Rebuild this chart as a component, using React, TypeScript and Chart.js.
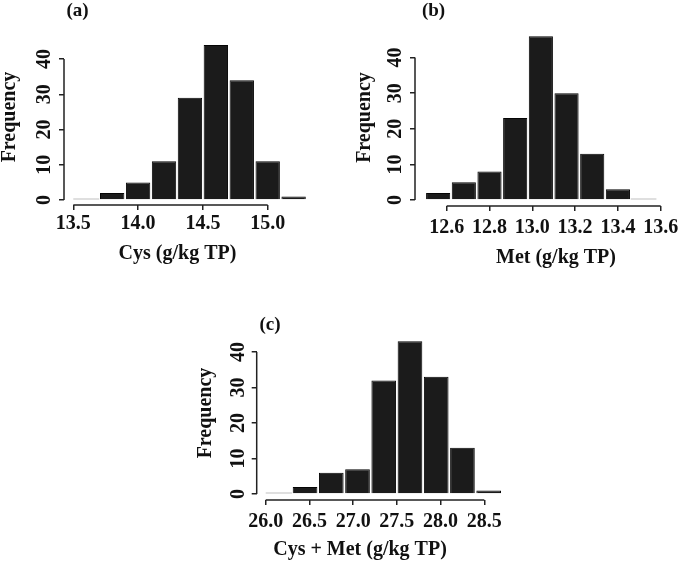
import React, { useEffect, useRef } from "react";
import { Chart, registerables } from "chart.js";

Chart.register(...registerables);

// ---------- data ----------
const cysBinStarts = [13.5, 13.7, 13.9, 14.1, 14.3, 14.5, 14.7, 14.9, 15.1];
const cysCounts = [0, 2, 5, 11, 29, 44, 34, 11, 1];
const cysBinWidth = 0.2;
const cysTicks = [13.5, 14.0, 14.5, 15.0];

const metBinStarts = [12.5, 12.62, 12.74, 12.86, 12.98, 13.1, 13.22, 13.34, 13.46];
const metCounts = [2, 5, 8, 23, 46, 30, 13, 3, 0];
const metBinWidth = 0.12;
const metTicks = [12.6, 12.8, 13.0, 13.2, 13.4, 13.6];

const sumBinStarts = [26.0, 26.3, 26.6, 26.9, 27.2, 27.5, 27.8, 28.1, 28.4];
const sumCounts = [0, 2, 6, 7, 32, 43, 33, 13, 1];
const sumBinWidth = 0.3;
const sumTicks = [26.0, 26.5, 27.0, 27.5, 28.0, 28.5];

const freqTicks = [0, 10, 20, 30, 40];
const panelLabels = ["(a)", "(b)", "(c)"];
const xTitles = ["Cys (g/kg TP)", "Met (g/kg TP)", "Cys + Met (g/kg TP)"];
const yTitle = "Frequency";

// ---------- layout (page pixels) ----------
const W = 685;
const H = 563;
const FONT = "'Liberation Serif', 'Times New Roman', serif";

type Layout = {
  xCal: [number, number, number, number];
  yCal: [number, number, number, number];
  area: { left: number; right: number; top: number; bottom: number };
  yTickPad: number;
  xTickPad: number;
  label: [number, number];
  xTitle: [number, number];
  yTitle: [number, number];
};

const layouts: Layout[] = [
  {
    xCal: [13.5, 73.3, 15.0, 267.7],
    yCal: [0, 200, 40, 59],
    area: { left: 64, right: 316, top: 31, bottom: 205 },
    yTickPad: 4,
    xTickPad: 2,
    label: [77.5, 11],
    xTitle: [177.5, 254],
    yTitle: [9.5, 117],
  },
  {
    xCal: [12.6, 446.7, 13.6, 660.7],
    yCal: [0, 200, 40, 57.5],
    area: { left: 415, right: 666, top: 29, bottom: 206 },
    yTickPad: 4.5,
    xTickPad: 5,
    label: [433.5, 11],
    xTitle: [556, 257.5],
    yTitle: [365, 117.5],
  },
  {
    xCal: [26.0, 265.7, 28.5, 484.3],
    yCal: [0, 494, 40, 352],
    area: { left: 256.7, right: 511, top: 326, bottom: 500 },
    yTickPad: 3,
    xTickPad: 5,
    label: [270, 325],
    xTitle: [360, 550],
    yTitle: [206, 413],
  },
];

const X_AXIS_H = 40;

function valueAt(cal: [number, number, number, number], px: number) {
  const [v1, p1, v2, p2] = cal;
  return v1 + ((px - p1) * (v2 - v1)) / (p2 - p1);
}

type Panel = {
  starts: number[];
  counts: number[];
  width: number;
  ticks: number[];
  index: number;
};

const panels: Panel[] = [
  { starts: cysBinStarts, counts: cysCounts, width: cysBinWidth, ticks: cysTicks, index: 0 },
  { starts: metBinStarts, counts: metCounts, width: metBinWidth, ticks: metTicks, index: 1 },
  { starts: sumBinStarts, counts: sumCounts, width: sumBinWidth, ticks: sumTicks, index: 2 },
];

function Histogram({ panel }: { panel: Panel }) {
  const ref = useRef<HTMLCanvasElement | null>(null);

  useEffect(() => {
    if (!ref.current) return;
    const lay = layouts[panel.index];
    const { area } = lay;
    const xmin = valueAt(lay.xCal, area.left);
    const xmax = valueAt(lay.xCal, area.right);
    const ymin = valueAt(lay.yCal, area.bottom);
    const ymax = valueAt(lay.yCal, area.top);

    const data = panel.starts.map((s, i) => ({ x: s + panel.width / 2, y: panel.counts[i] }));

    const rAxes = {
      id: "rAxes" + panel.index,
      afterDraw(chart: any) {
        const { ctx, chartArea } = chart;
        const xs = chart.scales.x;
        const ys = chart.scales.y;
        ctx.save();
        // zero-height bins
        ctx.strokeStyle = "#d4d4d4";
        ctx.lineWidth = 1.5;
        data.forEach((d) => {
          if (d.y === 0) {
            ctx.beginPath();
            ctx.moveTo(xs.getPixelForValue(d.x - panel.width / 2), ys.getPixelForValue(0) - 1);
            ctx.lineTo(xs.getPixelForValue(d.x + panel.width / 2), ys.getPixelForValue(0) - 1);
            ctx.stroke();
          }
        });
        // axis lines (R style: from first to last tick)
        ctx.strokeStyle = "#222";
        ctx.lineWidth = 1.5;
        const xt = xs.ticks;
        const yt = ys.ticks;
        ctx.beginPath();
        ctx.moveTo(xs.getPixelForValue(xt[0].value), chartArea.bottom);
        ctx.lineTo(xs.getPixelForValue(xt[xt.length - 1].value), chartArea.bottom);
        ctx.moveTo(chartArea.left, ys.getPixelForValue(yt[0].value));
        ctx.lineTo(chartArea.left, ys.getPixelForValue(yt[yt.length - 1].value));
        ctx.stroke();
        // texts
        ctx.fillStyle = "#111";
        ctx.textAlign = "center";
        ctx.textBaseline = "middle";
        ctx.font = `bold 19px ${FONT}`;
        ctx.fillText(panelLabels[panel.index], lay.label[0], lay.label[1]);
        ctx.font = `bold 20px ${FONT}`;
        ctx.fillText(xTitles[panel.index], lay.xTitle[0], lay.xTitle[1]);
        ctx.translate(lay.yTitle[0], lay.yTitle[1]);
        ctx.rotate(-Math.PI / 2);
        ctx.fillText(yTitle, 0, 0);
        ctx.restore();
      },
    };

    const tickFont = { family: FONT, size: 20, weight: "bold" as const };

    const chart = new Chart(ref.current, {
      type: "bar",
      data: {
        datasets: [
          {
            data: data as any,
            backgroundColor: "#1b1b1b",
            borderColor: "#050505",
            borderWidth: 1,
            barPercentage: 0.94,
            categoryPercentage: 1,
          },
        ],
      },
      options: {
        animation: false,
        responsive: false,
        events: [],
        layout: {
          padding: {
            left: 0,
            top: area.top,
            right: W - area.right,
            bottom: H - area.bottom - X_AXIS_H,
          },
        },
        plugins: {
          legend: { display: false },
          tooltip: { enabled: false },
          title: { display: false },
        },
        scales: {
          x: {
            type: "linear",
            min: xmin,
            max: xmax,
            offset: false,
            afterBuildTicks: (s: any) => {
              s.ticks = panel.ticks.map((v) => ({ value: v }));
            },
            afterFit: (s: any) => {
              s.height = X_AXIS_H;
            },
            ticks: {
              autoSkip: false,
              maxRotation: 0,
              minRotation: 0,
              padding: lay.xTickPad,
              color: "#111",
              font: tickFont,
              callback: (v: any) => Number(v).toFixed(1),
            },
            grid: {
              offset: false,
              drawOnChartArea: false,
              drawTicks: true,
              tickLength: 5,
              color: "#222",
              lineWidth: 1.5,
            },
            border: { display: false },
          },
          y: {
            type: "linear",
            min: ymin,
            max: ymax,
            afterBuildTicks: (s: any) => {
              s.ticks = freqTicks.map((v) => ({ value: v }));
            },
            afterFit: (s: any) => {
              s.width = area.left;
            },
            ticks: {
              autoSkip: false,
              minRotation: 90,
              maxRotation: 90,
              crossAlign: "center",
              padding: lay.yTickPad,
              color: "#111",
              font: tickFont,
              callback: (v: any) => String(v),
            },
            grid: {
              offset: false,
              drawOnChartArea: false,
              drawTicks: true,
              tickLength: 5,
              color: "#222",
              lineWidth: 1.5,
            },
            border: { display: false },
          },
        },
      },
      plugins: [rAxes],
    });

    return () => chart.destroy();
  }, [panel]);

  return (
    <canvas
      ref={ref}
      width={W}
      height={H}
      style={{ position: "absolute", left: 0, top: 0, width: W, height: H }}
    />
  );
}

export default function App() {
  return (
    <div
      style={{
        position: "absolute",
        left: 0,
        top: 0,
        width: W,
        height: H,
        background: "#fff",
        overflow: "hidden",
      }}
    >
      {panels.map((p) => (
        <Histogram key={p.index} panel={p} />
      ))}
    </div>
  );
}
